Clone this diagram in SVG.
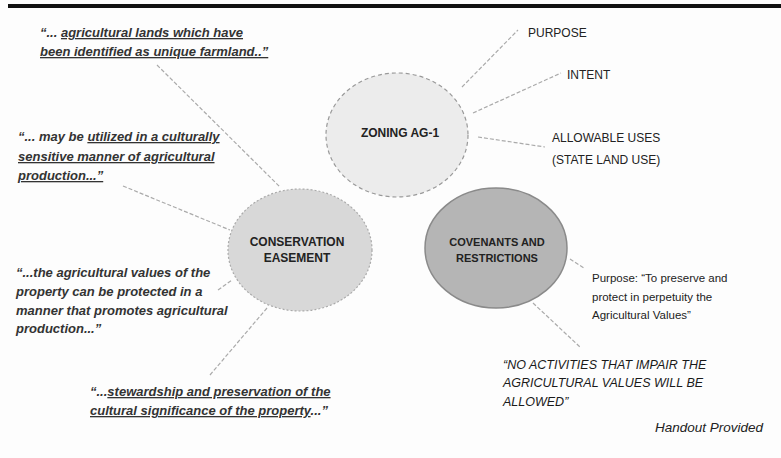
<svg xmlns="http://www.w3.org/2000/svg" width="781" height="458" viewBox="0 0 781 458">
<style>
.q{font-family:"Liberation Sans",Arial,sans-serif;font-size:13px;font-weight:bold;font-style:italic;fill:#333}
.u{text-decoration:underline}
.lbl{font-family:"Liberation Sans",Arial,sans-serif;font-size:12px;fill:#222}
.p{font-size:11.5px}
.it{font-style:italic;font-size:12.5px;fill:#1a1a1a}
.ho{font-style:italic;font-size:13.5px}
.nd{font-family:"Liberation Sans",Arial,sans-serif;font-size:12px;font-weight:bold;fill:#222;text-anchor:middle}
.sm{font-size:11px}
.c{stroke:#aaa;stroke-width:1.2;stroke-dasharray:4 2;fill:none}
</style>
<rect width="781" height="458" fill="#fdfdfd"/>
<rect x="8" y="4" width="773" height="4" fill="#111"/>
<g id="connectors">
<line class="c" x1="157" y1="65" x2="280" y2="187"/>
<line class="c" x1="123" y1="186" x2="230" y2="230"/>
<line class="c" x1="218" y1="290" x2="232" y2="280"/>
<line class="c" x1="210" y1="375" x2="267" y2="308"/>
<line class="c" x1="462" y1="87" x2="518" y2="30"/>
<line class="c" x1="473" y1="113" x2="561" y2="73"/>
<line class="c" x1="478" y1="137" x2="545" y2="147"/>
<line class="c" x1="570" y1="259" x2="584" y2="268"/>
<line class="c" x1="533" y1="303" x2="580" y2="347"/>
</g>
<g id="zoning">
<ellipse cx="397" cy="135" rx="71" ry="62" fill="#ececec" stroke="#999" stroke-width="1.2" stroke-dasharray="4 3"/>
<text class="nd" x="400" y="137">ZONING AG-1</text>
</g>
<g id="conservation">
<ellipse cx="300" cy="250" rx="72" ry="61" fill="#d8d8d8" stroke="#aaa" stroke-width="1.2" stroke-dasharray="2 2"/>
<text class="nd" x="297" y="246">CONSERVATION</text>
<text class="nd" x="297" y="262">EASEMENT</text>
</g>
<g id="covenants">
<ellipse cx="496" cy="248" rx="71" ry="60" fill="#b5b5b5" stroke="#8a8a8a" stroke-width="1.5"/>
<text class="nd sm" x="497" y="246">COVENANTS AND</text>
<text class="nd sm" x="497" y="262">RESTRICTIONS</text>
</g>
<g id="quote1">
<text class="q" x="40" y="37">“... <tspan class="u">agricultural lands which have</tspan></text>
<text class="q" x="40" y="56"><tspan class="u">been identified as unique farmland..”</tspan></text>
</g>
<g id="quote2">
<text class="q" x="18" y="141">“... may be <tspan class="u">utilized in a culturally</tspan></text>
<text class="q" x="18" y="161"><tspan class="u">sensitive manner of agricultural</tspan></text>
<text class="q" x="18" y="180"><tspan class="u">production...”</tspan></text>
</g>
<g id="quote3">
<text class="q" x="16" y="277">“...the agricultural values of the</text>
<text class="q" x="16" y="296">property can be protected in a</text>
<text class="q" x="16" y="315">manner that promotes agricultural</text>
<text class="q" x="16" y="333">production...”</text>
</g>
<g id="quote4">
<text class="q" x="90" y="396">“...<tspan class="u">stewardship and preservation of the</tspan></text>
<text class="q" x="90" y="415"><tspan class="u">cultural significance of the property</tspan>...”</text>
</g>
<g id="purpose"><text class="lbl" x="528" y="37">PURPOSE</text></g>
<g id="intent"><text class="lbl" x="567" y="79">INTENT</text></g>
<g id="allowable">
<text class="lbl" x="552" y="142">ALLOWABLE USES</text>
<text class="lbl" x="552" y="164">(STATE LAND USE)</text>
</g>
<g id="purpose-quote">
<text class="lbl p" x="592" y="282">Purpose:  “To preserve and</text>
<text class="lbl p" x="592" y="301">protect in perpetuity the</text>
<text class="lbl p" x="592" y="319">Agricultural Values”</text>
</g>
<g id="no-activities">
<text class="lbl it" x="503" y="369">“NO ACTIVITIES THAT IMPAIR THE</text>
<text class="lbl it" x="503" y="387">AGRICULTURAL VALUES WILL BE</text>
<text class="lbl it" x="503" y="406">ALLOWED”</text>
</g>
<g id="handout"><text class="lbl ho" x="655" y="432">Handout Provided</text></g>
</svg>
